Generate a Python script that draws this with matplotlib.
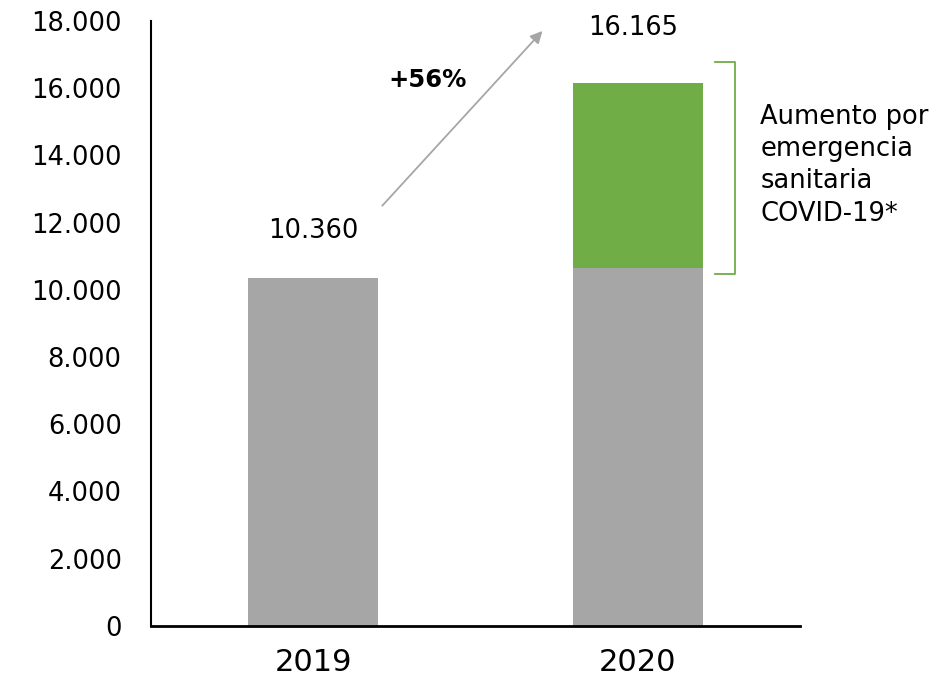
import matplotlib

matplotlib.use("Agg")
import matplotlib.pyplot as plt
from matplotlib.ticker import FuncFormatter

plt.rcParams["font.family"] = ["DejaVu Sans"]

YEARS = ["2019", "2020"]
BASE = [10360, 10650]        # gray part
COVID = [0, 5515]            # green increase in 2020
TOTALS = [10360, 16165]
VALUE_LABELS = ["10.360", "16.165"]
GROWTH = "+56%"
NOTE = "Aumento por\nemergencia\nsanitaria\nCOVID-19*"
YTICKS = list(range(0, 18001, 2000))

GRAY = "#A6A6A6"
GREEN = "#70AD47"

fig = plt.figure(figsize=(9.37, 6.83), dpi=100)
ax = fig.add_axes([0.161, 0.0835, 0.693, 0.886])

x = range(len(YEARS))
ax.bar(x, BASE, width=0.4, color=GRAY)
ax.bar(x, COVID, width=0.4, bottom=BASE, color=GREEN)

ax.set_xlim(-0.5, 1.5)
ax.set_ylim(0, 18000)
ax.set_yticks(YTICKS)
ax.yaxis.set_major_formatter(FuncFormatter(lambda v, p: f"{int(v):,}".replace(",", ".")))
ax.set_xticks(list(x))
ax.set_xticklabels(YEARS, fontsize=22)
ax.tick_params(axis="y", length=0, pad=21, labelsize=18.5)
ax.tick_params(axis="x", length=0, pad=16)
for s in ("top", "right"):
    ax.spines[s].set_visible(False)
ax.spines["left"].set_linewidth(1.5)
ax.spines["bottom"].set_linewidth(2)

# value labels
ax.text(0, TOTALS[0] + 1180, VALUE_LABELS[0], ha="center", va="baseline", fontsize=18.5)
ax.text(0.985, TOTALS[1] + 1420, VALUE_LABELS[1], ha="center", va="baseline", fontsize=18.5)

# growth arrow
ax.annotate("", xy=(0.712, 17760), xytext=(0.207, 12440),
            arrowprops=dict(arrowstyle="-|>", color=GRAY, lw=1.3, mutation_scale=18),
            annotation_clip=False)
ax.text(0.352, 16040, GROWTH, ha="center", va="baseline", fontsize=17.5, fontweight="bold")

# bracket around the COVID increase
top = TOTALS[1] + 615
bot = BASE[1] - 180
ax.plot([1.238, 1.30, 1.30, 1.238], [top, top, bot, bot], color=GREEN, lw=1.3,
        clip_on=False, solid_joinstyle="round")
ax.text(1.377, 13700, NOTE, ha="left", va="center", fontsize=18.5, linespacing=1.31,
        clip_on=False)

fig.savefig("out.png", dpi=100)
